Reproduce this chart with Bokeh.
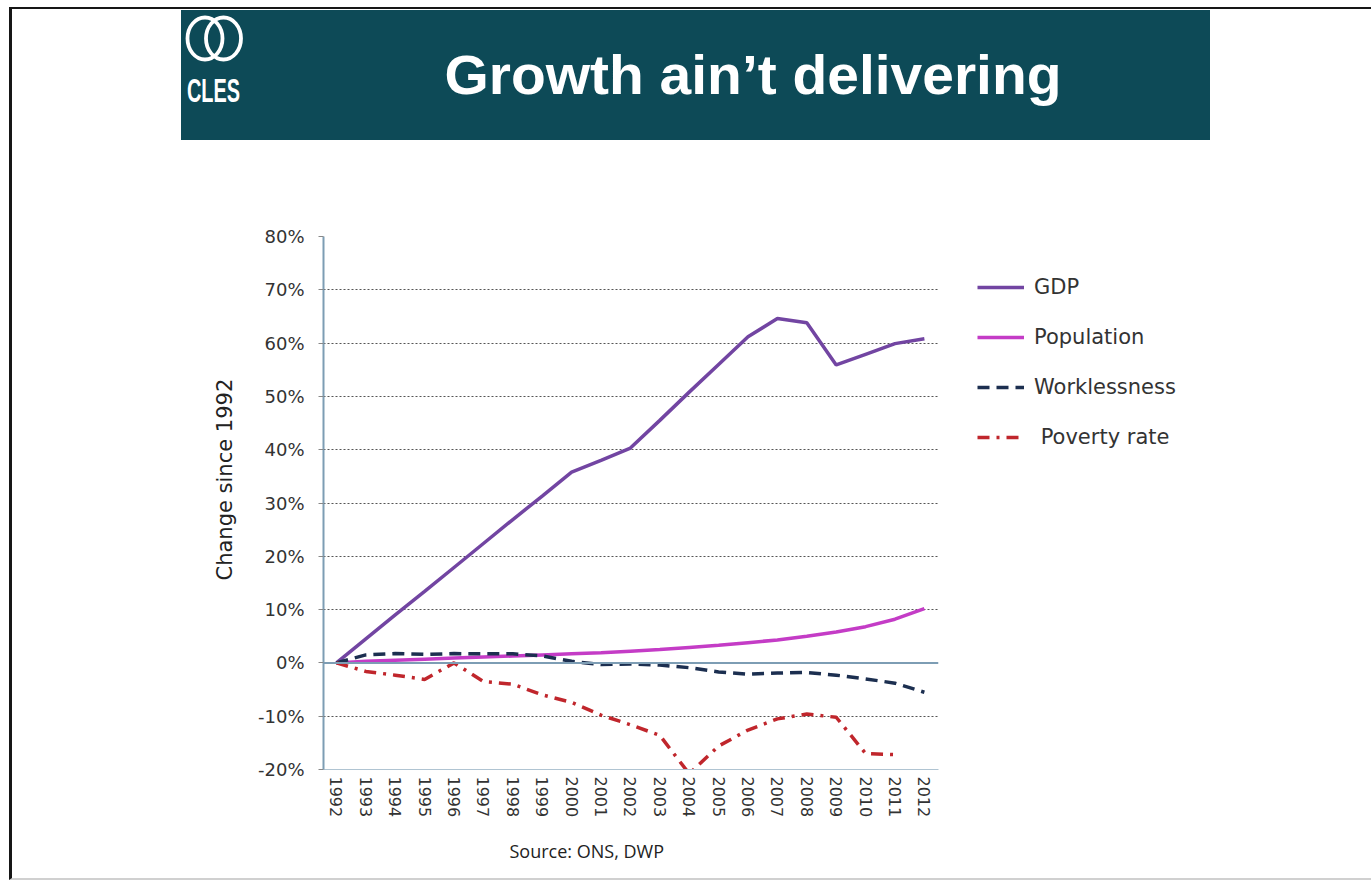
from bokeh.plotting import figure
from bokeh.models import (Range1d, FixedTicker, PrintfTickFormatter, Legend,
                          LegendItem, Title, Span, Div)
from bokeh.layouts import column
from bokeh.embed import file_html
from bokeh.resources import INLINE

# ---------------- data ----------------
years = [1992, 1993, 1994, 1995, 1996, 1997, 1998, 1999, 2000, 2001, 2002,
         2003, 2004, 2005, 2006, 2007, 2008, 2009, 2010, 2011, 2012]
gdp = [0.0, 4.5, 9.0, 13.4, 17.9, 22.4, 26.9, 31.3, 35.8, 38.0, 40.3,
       45.5, 50.8, 56.0, 61.2, 64.6, 63.8, 55.9, 57.9, 59.9, 60.8]
population = [0.0, 0.3, 0.5, 0.7, 0.9, 1.1, 1.3, 1.5, 1.7, 1.9, 2.2,
              2.5, 2.9, 3.3, 3.8, 4.3, 5.0, 5.8, 6.8, 8.2, 10.2]
worklessness = [0.0, 1.5, 1.75, 1.6, 1.75, 1.7, 1.7, 1.3, 0.3, -0.3, -0.2,
                -0.4, -0.9, -1.7, -2.1, -1.9, -1.8, -2.3, -3.0, -3.8, -5.5]
poverty_years = [1992, 1993, 1994, 1995, 1996, 1997, 1998, 1999, 2000, 2001,
                 2002, 2003, 2004, 2005, 2006, 2007, 2008, 2009, 2010, 2011]
poverty = [0.0, -1.6, -2.3, -3.1, 0.0, -3.5, -4.0, -6.0, -7.4, -9.8,
           -11.6, -13.6, -20.8, -15.6, -12.6, -10.5, -9.6, -10.2, -17.0, -17.2]
y_ticks = [-20, -10, 0, 10, 20, 30, 40, 50, 60, 70, 80]
series_names = ["GDP", "Population", "Worklessness", " Poverty rate"]
title_text = "Growth ain\u2019t delivering"
logo_text = "CLES"
source_text = "Source: ONS, DWP"
y_label = "Change since 1992"

TEAL = "#0d4a57"

# ---------------- slide header (inline SVG) ----------------
header_svg = f"""
<svg xmlns="http://www.w3.org/2000/svg" width="1359" height="131" style="display:block">
  <rect x="169" y="1" width="1029" height="130" fill="{TEAL}"/>
  <ellipse cx="193" cy="29.5" rx="17.5" ry="21" fill="none" stroke="white" stroke-width="3.8"/>
  <ellipse cx="211.5" cy="29.5" rx="17.5" ry="21" fill="none" stroke="white" stroke-width="3.8"/>
  <text x="175" y="93" font-family="Open Sans" font-weight="bold" font-size="33"
        fill="white" textLength="53" lengthAdjust="spacingAndGlyphs">{logo_text}</text>
  <text x="741" y="70" text-anchor="middle" dominant-baseline="middle" font-family="Open Sans"
        font-weight="bold" font-size="55" fill="white" textLength="617"
        lengthAdjust="spacingAndGlyphs">{title_text}</text>
</svg>
"""
header = Div(text=header_svg, width=1359, height=131, margin=0)

# ---------------- chart ----------------
p = figure(x_range=Range1d(1991.56, 2012.48), y_range=Range1d(-20, 80),
           frame_width=615, frame_height=533,
           output_backend="svg", toolbar_location=None,
           min_border_left=311, min_border_right=140,
           min_border_top=96, min_border_bottom=109,
           outline_line_color=None)

p.xgrid.visible = False
p.ygrid.ticker = FixedTicker(ticks=y_ticks)
p.ygrid.grid_line_color = "#555555"
p.ygrid.grid_line_dash = "2 2"
p.ygrid.grid_line_width = 1

p.add_layout(Span(location=0, dimension="width", line_color="#7d9db4", line_width=2))

r_gdp = p.line(years, gdp, line_color="#7245a2", line_width=3.5)
r_pop = p.line(years, population, line_color="#c43cc6", line_width=3.5)
r_wl = p.line(years, worklessness, line_color="#1c2f50", line_width=3.5, line_dash="12 7")
r_pov = p.line(poverty_years, poverty, line_color="#c0262c", line_width=3.5,
               line_dash="12 7 3 7")

ya = p.yaxis[0]
ya.ticker = FixedTicker(ticks=y_ticks)
ya.formatter = PrintfTickFormatter(format="%d%%")
ya.axis_line_color = "#7d9db4"
ya.axis_line_width = 2
ya.major_tick_line_color = "#888888"
ya.major_tick_out = 5
ya.major_tick_in = 0
ya.minor_tick_line_color = None
ya.major_label_text_font = "DejaVu Sans"
ya.major_label_text_font_size = "18px"
ya.major_label_text_color = "#333333"
ya.major_label_standoff = 14

xa = p.xaxis[0]
xa.ticker = FixedTicker(ticks=years)
xa.major_label_orientation = "vertical"
xa.axis_line_color = "#b0c4d2"
xa.major_tick_line_color = None
xa.minor_tick_line_color = None
xa.major_label_text_font = "DejaVu Sans"
xa.major_label_text_font_size = "16px"
xa.major_label_text_color = "#333333"
xa.major_label_standoff = 1

legend = Legend(items=[LegendItem(label=series_names[0], renderers=[r_gdp]),
                       LegendItem(label=series_names[1], renderers=[r_pop]),
                       LegendItem(label=series_names[2], renderers=[r_wl]),
                       LegendItem(label=series_names[3], renderers=[r_pov])],
                location="top_left", border_line_color=None, background_fill_alpha=0,
                label_text_font="DejaVu Sans", label_text_font_size="21px",
                label_text_color="#333333", glyph_width=47, glyph_height=20,
                label_height=20, label_standoff=10, spacing=26, padding=9, margin=39)
p.add_layout(legend, "right")

p.add_layout(Title(text=y_label, align="left", offset=189, text_font="DejaVu Sans",
                   text_font_size="21px", text_font_style="normal", text_color="#222222",
                   standoff=36), "left")
p.add_layout(Title(text=source_text, align="left", offset=186, text_font="Open Sans",
                   text_font_size="18px", text_font_style="normal", text_color="#222222",
                   standoff=32), "below")

layout = column(header, p, styles={"margin-left": "9px", "margin-top": "7px",
                                   "border-left": "3px solid #161616",
                                   "border-top": "2px solid #161616",
                                   "border-bottom": "2px solid #d0d0d0"})

open("out.html", "w").write(file_html(layout, INLINE))
